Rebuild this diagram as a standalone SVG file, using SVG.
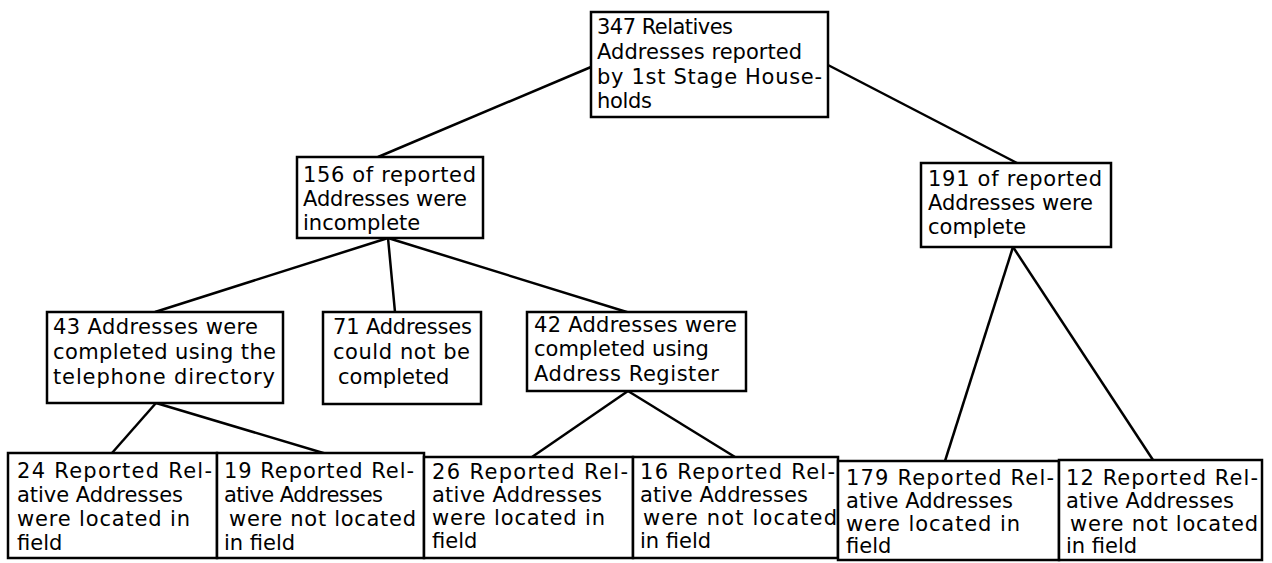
<svg xmlns="http://www.w3.org/2000/svg" width="1272" height="563" viewBox="0 0 1272 563">
<style>
rect{fill:#fff;stroke:#000;stroke-width:2.5}
#connectors line{stroke:#000;stroke-width:2.5}
text{font-family:"DejaVu Sans","Liberation Sans",sans-serif;font-size:21px;fill:#000}
</style>
<rect x="0" y="0" width="1272" height="563" style="stroke:none"/>
<g id="connectors">
<line x1="591" y1="67" x2="378" y2="157"/>
<line x1="828" y1="65" x2="1017" y2="163"/>
<line x1="388" y1="238" x2="155" y2="312"/>
<line x1="388" y1="238" x2="395" y2="312"/>
<line x1="388" y1="238" x2="630" y2="313"/>
<line x1="156" y1="403" x2="112" y2="453"/>
<line x1="156" y1="403" x2="330" y2="455"/>
<line x1="628" y1="391" x2="532" y2="457"/>
<line x1="628" y1="391" x2="735" y2="457"/>
<line x1="1013" y1="247" x2="945" y2="461"/>
<line x1="1013" y1="247" x2="1153" y2="460"/>
</g>
<g id="n347"><rect x="591" y="12" width="237" height="105"/>
<text x="597" y="34" textLength="136">347 Relatives</text>
<text x="597" y="59" textLength="205">Addresses reported</text>
<text x="597" y="84" textLength="225">by 1st Stage House-</text>
<text x="597" y="108" textLength="55">holds</text></g>
<g id="n156"><rect x="297" y="157" width="186" height="81"/>
<text x="303" y="182" textLength="173">156 of reported</text>
<text x="303" y="206" textLength="164">Addresses were</text>
<text x="303" y="230">incomplete</text></g>
<g id="n191"><rect x="921" y="163" width="190" height="84"/>
<text x="928" y="186" textLength="174">191 of reported</text>
<text x="928" y="210" textLength="165">Addresses were</text>
<text x="928" y="234">complete</text></g>
<g id="n43"><rect x="47" y="312" width="236" height="91"/>
<text x="53" y="334" textLength="205">43 Addresses were</text>
<text x="53" y="359" textLength="223">completed using the</text>
<text x="53" y="384" textLength="222">telephone directory</text></g>
<g id="n71"><rect x="323" y="312" width="158" height="92"/>
<text x="333" y="334" textLength="139">71 Addresses</text>
<text x="333" y="359" textLength="137">could not be</text>
<text x="338" y="384">completed</text></g>
<g id="n42"><rect x="527" y="312" width="219" height="79"/>
<text x="534" y="332" textLength="203">42 Addresses were</text>
<text x="534" y="356">completed using</text>
<text x="534" y="381" textLength="185">Address Register</text></g>
<g id="n24"><rect x="8" y="453" width="209" height="105"/>
<text x="17" y="478" textLength="195">24 Reported Rel-</text>
<text x="17" y="502" textLength="166">ative Addresses</text>
<text x="17" y="526" textLength="173">were located in</text>
<text x="17" y="550">field</text></g>
<g id="n19"><rect x="217" y="453" width="207" height="105"/>
<text x="224" y="478" textLength="190">19 Reported Rel-</text>
<text x="224" y="502" textLength="159">ative Addresses</text>
<text x="229" y="526" textLength="187">were not located</text>
<text x="224" y="550">in field</text></g>
<g id="n26"><rect x="424" y="457" width="209" height="101"/>
<text x="432" y="479" textLength="196">26 Reported Rel-</text>
<text x="432" y="502" textLength="170">ative Addresses</text>
<text x="432" y="525" textLength="173">were located in</text>
<text x="432" y="548">field</text></g>
<g id="n16"><rect x="633" y="457" width="205" height="101"/>
<text x="640" y="479" textLength="195">16 Reported Rel-</text>
<text x="640" y="502" textLength="168">ative Addresses</text>
<text x="643" y="525" textLength="194">were not located</text>
<text x="640" y="548">in field</text></g>
<g id="n179"><rect x="838" y="461" width="221" height="99"/>
<text x="846" y="485" textLength="208">179 Reported Rel-</text>
<text x="846" y="508" textLength="167">ative Addresses</text>
<text x="846" y="531" textLength="174">were located in</text>
<text x="846" y="553">field</text></g>
<g id="n12"><rect x="1059" y="460" width="203" height="100"/>
<text x="1066" y="485" textLength="192">12 Reported Rel-</text>
<text x="1066" y="508" textLength="168">ative Addresses</text>
<text x="1070" y="531" textLength="188">were not located</text>
<text x="1066" y="553">in field</text></g>
</svg>
